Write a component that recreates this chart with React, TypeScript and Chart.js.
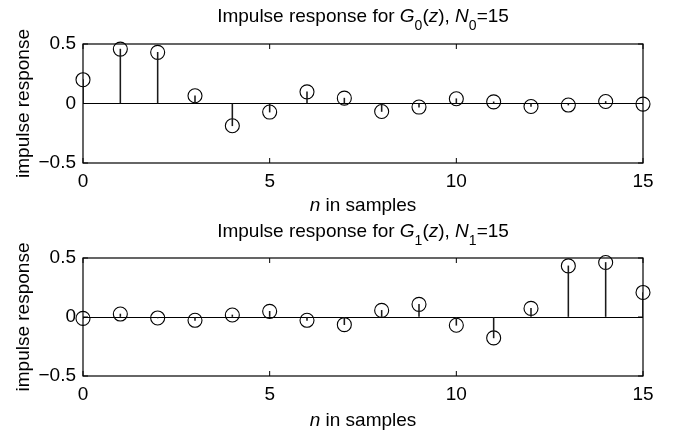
import React, { useEffect, useRef } from "react";
import { Chart, registerables } from "chart.js";

Chart.register(...registerables);

const sampleIndex = [0, 1, 2, 3, 4, 5, 6, 7, 8, 9, 10, 11, 12, 13, 14, 15];
const g0Response = [0.2, 0.457, 0.43, 0.065, -0.187, -0.072, 0.098, 0.045, -0.067, -0.03, 0.04, 0.014, -0.025, -0.013, 0.017, -0.005];
const g1Response = [-0.012, 0.025, -0.008, -0.028, 0.017, 0.048, -0.028, -0.065, 0.056, 0.107, -0.07, -0.177, 0.073, 0.433, 0.462, 0.208];
const yTickValues = [-0.5, 0, 0.5];
const xTickValues = [0, 5, 10, 15];

const FONT = "'Liberation Sans', Arial, Helvetica, sans-serif";
const FS = 19;
const W = 679;
const H = 215;

type Seg = { t: string; i?: boolean; sub?: boolean };

function titleSegs(k: number): Seg[] {
  return [
    { t: "Impulse response for " },
    { t: "G", i: true },
    { t: String(k), sub: true },
    { t: "(" },
    { t: "z", i: true },
    { t: "), " },
    { t: "N", i: true },
    { t: String(k), sub: true },
    { t: "=15" },
  ];
}

function fontFor(s: Seg) {
  const size = s.sub ? 14 : FS;
  return `${s.i ? "italic " : ""}${size}px ${FONT}`;
}

function drawRich(ctx: CanvasRenderingContext2D, segs: Seg[], cx: number, baseline: number) {
  let total = 0;
  segs.forEach((s) => {
    ctx.font = fontFor(s);
    total += ctx.measureText(s.t).width;
  });
  let x = cx - total / 2;
  ctx.textAlign = "left";
  ctx.textBaseline = "alphabetic";
  segs.forEach((s) => {
    ctx.font = fontFor(s);
    ctx.fillText(s.t, x, baseline + (s.sub ? 8 : 0));
    x += ctx.measureText(s.t).width;
  });
}

const framePlugin = {
  id: "frame",
  afterDraw(chart: any, _args: any, opts: any) {
    const { ctx, chartArea, scales } = chart;
    const { left, right, top, bottom } = chartArea;
    const x = scales.x;
    const y = scales.y;
    ctx.save();
    ctx.strokeStyle = "#000";
    ctx.fillStyle = "#000";
    ctx.lineWidth = 1.2;
    ctx.strokeRect(left, top, right - left, bottom - top);
    ctx.lineWidth = 1;
    const tl = 5;
    ctx.beginPath();
    x.ticks.forEach((t: any) => {
      const px = x.getPixelForValue(t.value);
      ctx.moveTo(px, top);
      ctx.lineTo(px, top + tl);
      ctx.moveTo(px, bottom);
      ctx.lineTo(px, bottom - tl);
    });
    y.ticks.forEach((t: any) => {
      const py = y.getPixelForValue(t.value);
      ctx.moveTo(left, py);
      ctx.lineTo(left + tl, py);
      ctx.moveTo(right, py);
      ctx.lineTo(right - tl, py);
    });
    ctx.stroke();

    const cx = (left + right) / 2;
    drawRich(ctx, opts.title, cx, opts.titleBaseline);
    drawRich(ctx, [{ t: "n", i: true }, { t: " in samples" }], cx, opts.xlabelBaseline);

    ctx.translate(opts.ylabelX, (top + bottom) / 2);
    ctx.rotate(-Math.PI / 2);
    ctx.font = `${FS}px ${FONT}`;
    ctx.textAlign = "center";
    ctx.textBaseline = "middle";
    ctx.fillText("impulse response", 0, 0);
    ctx.restore();
  },
};

type PlotProps = {
  values: number[];
  k: number;
  chartTop: number;
  chartBottom: number;
  offsetY: number;
};

function StemPlot({ values, k, chartTop, chartBottom, offsetY }: PlotProps) {
  const ref = useRef<HTMLCanvasElement>(null);
  useEffect(() => {
    if (!ref.current) return;
    const pts = sampleIndex.map((n, i) => ({ x: n, y: values[i] }));
    const chart = new Chart(ref.current, {
      type: "bar",
      data: {
        datasets: [
          {
            type: "bar",
            data: pts,
            backgroundColor: "#1a1a1a",
            barThickness: 0.9,
            borderWidth: 0,
          } as any,
          {
            type: "scatter",
            data: pts,
            pointStyle: "circle",
            pointRadius: 7,
            pointBorderWidth: 1.1,
            pointBackgroundColor: "rgba(0,0,0,0)",
            pointBorderColor: "#000",
            showLine: false,
            clip: false,
          } as any,
        ],
      },
      options: {
        responsive: false,
        animation: false,
        devicePixelRatio: 1,
        layout: { padding: { top: chartTop, right: 36, left: 0, bottom: 0 } },
        plugins: {
          legend: { display: false },
          tooltip: { enabled: false },
          frame: {
            title: titleSegs(k),
            titleBaseline: 21.5,
            xlabelBaseline: 211,
            ylabelX: 24,
          },
        } as any,
        scales: {
          x: {
            type: "linear",
            min: 0,
            max: 15,
            offset: false,
            afterBuildTicks: (s: any) => {
              s.ticks = xTickValues.map((v) => ({ value: v }));
            },
            afterFit: (s: any) => {
              s.height = H - chartBottom;
            },
            grid: { display: false, drawTicks: false },
            border: { display: false },
            ticks: {
              color: "#000",
              font: { family: FONT, size: FS },
              padding: 7,
              maxRotation: 0,
              autoSkip: false,
            },
          },
          y: {
            type: "linear",
            min: -0.5,
            max: 0.5,
            afterBuildTicks: (s: any) => {
              s.ticks = yTickValues.map((v) => ({ value: v }));
            },
            afterFit: (s: any) => {
              s.width = 83;
            },
            grid: {
              drawTicks: false,
              color: (c: any) => (c.tick && c.tick.value === 0 ? "#000" : "rgba(0,0,0,0)"),
              lineWidth: 1,
            },
            border: { display: false },
            ticks: {
              color: "#000",
              font: { family: FONT, size: FS },
              padding: 7,
              callback: (v: any) => (v === 0 ? "0" : v < 0 ? "\u2212" + Math.abs(v) : String(v)),
            },
          },
        },
      },
      plugins: [framePlugin],
    });
    return () => chart.destroy();
  }, [values, k, chartTop, chartBottom]);
  return (
    <canvas
      ref={ref}
      width={W}
      height={H}
      style={{ position: "absolute", left: 0, top: offsetY, width: W, height: H, display: "block" }}
    />
  );
}

export default function App() {
  return (
    <div style={{ position: "absolute", left: 0, top: 0, width: W, height: 430, background: "#fff" }}>
      <StemPlot values={g0Response} k={0} chartTop={44} chartBottom={163} offsetY={0} />
      <StemPlot values={g1Response} k={1} chartTop={43} chartBottom={161} offsetY={215} />
    </div>
  );
}
